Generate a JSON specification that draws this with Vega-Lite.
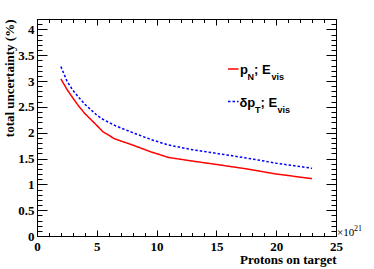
{
  "$schema": "https://vega.github.io/schema/vega-lite/v6.json",
  "width": 299,
  "height": 217,
  "autosize": "none",
  "padding": {"left": 37, "top": 19, "right": 38, "bottom": 33},
  "background": "white",
  "config": {
    "view": {"stroke": null},
    "axis": {"grid": false, "tickColor": "#000", "domainColor": "#000", "tickWidth": 1, "domainWidth": 1, "labelFont": "Liberation Serif", "labelFontWeight": "bold", "labelFontSize": 13, "labelColor": "#000", "titleFont": "Liberation Serif", "titleFontWeight": "bold", "titleFontSize": 13, "titleColor": "#000"}
  },
  "datasets": {
    "curves": [
      {"series": "pN", "x": 2, "y": 3.04}, {"series": "pN", "x": 2.5, "y": 2.84}, {"series": "pN", "x": 3, "y": 2.67}, {"series": "pN", "x": 3.5, "y": 2.51}, {"series": "pN", "x": 4, "y": 2.37}, {"series": "pN", "x": 5, "y": 2.14}, {"series": "pN", "x": 5.5, "y": 2.02}, {"series": "pN", "x": 6.5, "y": 1.88}, {"series": "pN", "x": 8, "y": 1.76}, {"series": "pN", "x": 9.5, "y": 1.63}, {"series": "pN", "x": 11, "y": 1.52}, {"series": "pN", "x": 13, "y": 1.45}, {"series": "pN", "x": 15, "y": 1.385}, {"series": "pN", "x": 17.5, "y": 1.3}, {"series": "pN", "x": 20, "y": 1.2}, {"series": "pN", "x": 23, "y": 1.11},
      {"series": "dpT", "x": 2, "y": 3.28}, {"series": "dpT", "x": 2.5, "y": 3.0}, {"series": "dpT", "x": 3, "y": 2.82}, {"series": "dpT", "x": 3.5, "y": 2.68}, {"series": "dpT", "x": 4, "y": 2.55}, {"series": "dpT", "x": 5, "y": 2.34}, {"series": "dpT", "x": 5.5, "y": 2.26}, {"series": "dpT", "x": 6.5, "y": 2.14}, {"series": "dpT", "x": 8, "y": 2.0}, {"series": "dpT", "x": 9.5, "y": 1.87}, {"series": "dpT", "x": 11, "y": 1.76}, {"series": "dpT", "x": 13, "y": 1.67}, {"series": "dpT", "x": 15, "y": 1.6}, {"series": "dpT", "x": 17.5, "y": 1.51}, {"series": "dpT", "x": 20, "y": 1.41}, {"series": "dpT", "x": 23, "y": 1.31}
    ],
    "legendLines": [
      {"series": "pN", "x": 15.97, "x2": 16.85, "y": 3.232},
      {"series": "dpT", "x": 15.97, "x2": 16.85, "y": 2.603}
    ],
    "legendMain": [
      {"x": 16.97, "y": 3.126, "text": "p"},
      {"x": 18.14, "y": 3.126, "text": "; E"},
      {"x": 16.93, "y": 2.497, "text": "δp"},
      {"x": 18.69, "y": 2.497, "text": "; E"}
    ],
    "legendSub": [
      {"x": 17.6, "y": 3.019, "text": "N"},
      {"x": 19.61, "y": 3.019, "text": "vis"},
      {"x": 18.23, "y": 2.39, "text": "T"},
      {"x": 20.11, "y": 2.39, "text": "vis"}
    ],
    "exponent": [
      {"x": 25, "y": 0, "base": "×10", "power": "21"}
    ]
  },
  "resolve": {"axis": {"x": "independent", "y": "independent"}},
  "layer": [
    {
      "data": {"name": "curves"},
      "mark": {"type": "line", "strokeWidth": 1.5, "clip": true},
      "encoding": {
        "x": {"field": "x", "type": "quantitative", "scale": {"domain": [0, 25], "nice": false, "zero": false},
          "axis": {"orient": "bottom", "values": [0, 5, 10, 15, 20, 25], "ticks": false, "domain": true, "labelPadding": 4, "labelFlush": false, "labelOverlap": false, "labelFont": "Liberation Serif", "labelFontWeight": "bold",
            "title": "Protons on target", "titleAnchor": "end", "titleAlign": "right", "titleX": 299, "titleY": 27, "titleBaseline": "alphabetic"}},
        "y": {"field": "y", "type": "quantitative", "scale": {"domain": [0, 4.2], "nice": false, "zero": false},
          "axis": {"orient": "left", "values": [0, 0.5, 1, 1.5, 2, 2.5, 3, 3.5, 4], "format": "~g", "ticks": false, "domain": true, "labelPadding": 3, "labelFlush": false, "labelOverlap": false, "labelFont": "Liberation Serif", "labelFontWeight": "bold",
            "title": "total uncertainty (%)", "titleAnchor": "end", "titleAlign": "right", "titleY": 0, "titleX": -24, "titleBaseline": "alphabetic", "titleAngle": -90}},
        "color": {"field": "series", "type": "nominal", "scale": {"domain": ["pN", "dpT"], "range": ["#ff0000", "#0000ff"]}, "legend": null},
        "strokeDash": {"field": "series", "type": "nominal", "scale": {"domain": ["pN", "dpT"], "range": [[1, 0], [2.5, 2]]}, "legend": null}
      }
    },
    {
      "data": {"name": "legendLines"},
      "mark": {"type": "rule", "strokeWidth": 1.5},
      "encoding": {
        "x": {"field": "x", "type": "quantitative", "axis": {"orient": "bottom", "values": [0, 5, 10, 15, 20, 25], "labels": false, "domain": false, "tickSize": -6, "title": null}},
        "x2": {"field": "x2"},
        "y": {"field": "y", "type": "quantitative", "axis": {"orient": "left", "values": [0, 0.5, 1, 1.5, 2, 2.5, 3, 3.5, 4], "labels": false, "domain": false, "tickSize": -10, "title": null}},
        "color": {"field": "series", "type": "nominal", "legend": null},
        "strokeDash": {"field": "series", "type": "nominal", "legend": null}
      }
    },
    {
      "data": {"name": "legendMain"},
      "mark": {"type": "text", "font": "Liberation Sans", "fontWeight": "bold", "fontSize": 13, "align": "left", "baseline": "alphabetic", "color": "#000"},
      "encoding": {
        "x": {"field": "x", "type": "quantitative", "axis": {"orient": "bottom", "values": [0,1,2,3,4,5,6,7,8,9,10,11,12,13,14,15,16,17,18,19,20,21,22,23,24,25], "labels": false, "domain": false, "tickSize": -3.5, "title": null}},
        "y": {"field": "y", "type": "quantitative", "axis": {"orient": "left", "values": [0,0.1,0.2,0.3,0.4,0.5,0.6,0.7,0.8,0.9,1,1.1,1.2,1.3,1.4,1.5,1.6,1.7,1.8,1.9,2,2.1,2.2,2.3,2.4,2.5,2.6,2.7,2.8,2.9,3,3.1,3.2,3.3,3.4,3.5,3.6,3.7,3.8,3.9,4,4.1,4.2], "labels": false, "domain": false, "tickSize": -5, "title": null}},
        "text": {"field": "text"}
      }
    },
    {
      "data": {"name": "legendSub"},
      "mark": {"type": "text", "font": "Liberation Sans", "fontWeight": "bold", "fontSize": 9, "align": "left", "baseline": "alphabetic", "color": "#000"},
      "encoding": {
        "x": {"field": "x", "type": "quantitative", "axis": {"orient": "top", "values": [0, 5, 10, 15, 20, 25], "labels": false, "domain": true, "tickSize": -6, "title": null}},
        "y": {"field": "y", "type": "quantitative", "axis": {"orient": "right", "values": [0, 0.5, 1, 1.5, 2, 2.5, 3, 3.5, 4], "labels": false, "domain": true, "tickSize": -10, "title": null}},
        "text": {"field": "text"}
      }
    },
    {
      "data": {"name": "exponent"},
      "encoding": {
        "x": {"field": "x", "type": "quantitative", "axis": {"orient": "top", "values": [0,1,2,3,4,5,6,7,8,9,10,11,12,13,14,15,16,17,18,19,20,21,22,23,24,25], "labels": false, "domain": false, "tickSize": -3.5, "title": null}},
        "y": {"field": "y", "type": "quantitative", "axis": {"orient": "right", "values": [0,0.1,0.2,0.3,0.4,0.5,0.6,0.7,0.8,0.9,1,1.1,1.2,1.3,1.4,1.5,1.6,1.7,1.8,1.9,2,2.1,2.2,2.3,2.4,2.5,2.6,2.7,2.8,2.9,3,3.1,3.2,3.3,3.4,3.5,3.6,3.7,3.8,3.9,4,4.1,4.2], "labels": false, "domain": false, "tickSize": -5, "title": null}}
      },
      "layer": [
        {"mark": {"type": "text", "font": "Liberation Serif", "fontSize": 11, "align": "left", "baseline": "alphabetic", "dx": 1, "color": "#000"}, "encoding": {"text": {"field": "base"}}},
        {"mark": {"type": "text", "font": "Liberation Serif", "fontSize": 8, "align": "left", "baseline": "alphabetic", "dx": 18, "dy": -5, "color": "#000"}, "encoding": {"text": {"field": "power"}}}
      ]
    }
  ]
}
